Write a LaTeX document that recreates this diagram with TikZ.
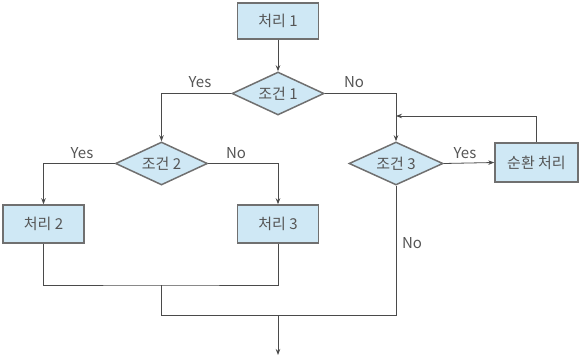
\documentclass[tikz,border=0pt]{standalone}
\usepackage{fontspec}
\setmainfont{Noto Sans CJK KR}
\usetikzlibrary{shapes.geometric,arrows.meta}
\definecolor{boxfill}{HTML}{CFE8F5}
\definecolor{boxline}{HTML}{707070}
\definecolor{conn}{HTML}{4A4A4A}
\definecolor{txt}{HTML}{555555}
\tikzset{
  procbox/.style={draw=boxline, line width=1.5pt, fill=boxfill, rectangle, minimum width=81pt, minimum height=38pt, inner sep=0pt, text=txt, font=\fontsize{15}{18}\selectfont},
  condbox/.style={draw=boxline, line width=1.5pt, fill=boxfill, diamond, aspect=2, minimum width=92pt, minimum height=43pt, inner sep=0pt, text=txt, font=\fontsize{15}{18}\selectfont},
  conline/.style={draw=conn, line width=0.8pt},
  arr/.style={conline, -{Stealth[length=6pt,width=4.5pt]}},
  lbl/.style={text=txt, font=\fontsize{15}{18}\selectfont, inner sep=0pt}
}
\begin{document}
\begin{tikzpicture}[x=1pt,y=-1pt]
\useasboundingbox (0,0) rectangle (580,358);
\node[procbox, minimum height=36pt] (p1) at (278,21) {처리 1};
\node[condbox] (c1) at (278,93.5) {조건 1};
\node[condbox] (c2) at (161.5,163.5) {조건 2};
\node[condbox, minimum width=94pt] (c3) at (396,163.5) {조건 3};
\node[procbox] (p2) at (43.5,224) {처리 2};
\node[procbox] (p3) at (278,224) {처리 3};
\node[procbox, minimum width=83pt, minimum height=39pt] (lp) at (536.5,162.5) {순환 처리};
\coordinate (j1) at (396,116);
\coordinate (m1) at (161.5,285);
\coordinate (m2) at (161.5,315);
\coordinate (m3) at (396,315);
\coordinate (m4) at (278,315);
\coordinate (out) at (278,355);
\draw[arr] (p1) -- (c1);
\draw[arr] (c1.west) -| (c2.north);
\draw[arr] (c1.east) -| (c3.north);
\draw[arr] (c2.west) -| (p2.north);
\draw[arr] (c2.east) -| (p3.north);
\draw[arr] (c3.east) -- (lp.west);
\draw[arr] (lp.north) |- (j1);
\draw[conline] (p2.south) |- (m1) -| (p3.south);
\draw[conline] (m1) -- (m2) -- (m3) -- (c3.south);
\draw[arr] (m4) -- (out);
\node[lbl] (y1) at (200,82) {Yes};
\node[lbl] (n1) at (354,82) {No};
\node[lbl] (y2) at (82,153) {Yes};
\node[lbl] (n2) at (236,153) {No};
\node[lbl] (y3) at (465,153) {Yes};
\node[lbl] (n3) at (412,243) {No};
\end{tikzpicture}
\end{document}
